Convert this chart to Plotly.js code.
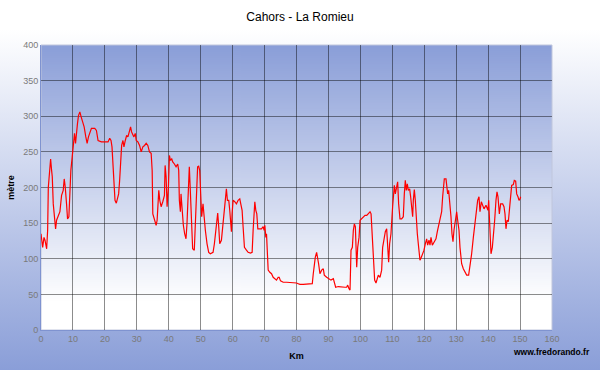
<!DOCTYPE html>
<html>
<head>
<meta charset="utf-8">
<script src="https://cdn.plot.ly/plotly-3.0.1.min.js"></script>
<style>
  html, body { margin: 0; padding: 0; }
  #chart { width: 600px; height: 370px;
    background: linear-gradient(to bottom, #ffffff 0%, #ffffff 8%, #8a9ed8 100%); }
</style>
</head>
<body>
<div id="chart"></div>
<script>
// Distance along the route (km)
const km = [
  0.0, 0.21, 0.52, 0.94, 1.25, 1.77, 2.08, 2.29, 2.6, 2.81, 3.01, 3.32, 3.53, 3.84, 4.16, 4.57, 4.88, 5.4, 5.92, 6.44,
  6.96, 7.27, 7.58, 8.0, 8.31, 8.73, 9.04, 9.35, 9.77, 10.08, 10.49, 10.81, 11.12, 11.43, 11.74, 12.16, 12.57, 12.99, 13.51, 14.03,
  14.44, 14.86, 15.27, 15.79, 16.83, 17.35, 17.87, 18.91, 19.95, 20.99, 21.51, 21.92, 22.23, 22.55, 22.86, 23.17, 23.58, 24.0, 24.31, 24.62,
  24.94, 25.25, 25.66, 25.97, 26.39, 26.81, 27.22, 27.74, 28.05, 28.36, 28.78, 29.09, 29.51, 29.82, 30.34, 30.86, 31.38, 31.9, 32.42, 32.94,
  33.45, 33.97, 34.49, 34.81, 35.01, 35.53, 36.05, 36.36, 36.68, 36.88, 37.19, 37.61, 38.13, 38.65, 38.86, 39.17, 39.48, 39.9, 40.21, 40.52,
  40.94, 41.25, 41.77, 42.29, 42.81, 43.12, 43.32, 43.64, 43.84, 44.16, 44.57, 44.99, 45.4, 45.71, 46.13, 46.44, 46.75, 47.07, 47.48, 48.0,
  48.52, 49.04, 49.37, 49.69, 50.0, 50.31, 50.73, 51.05, 51.46, 51.99, 52.51, 53.03, 53.87, 54.29, 54.92, 55.33, 55.65, 55.96, 56.49, 56.8,
  57.22, 57.74, 58.05, 58.37, 58.79, 59.1, 59.41, 59.62, 59.83, 60.15, 60.67, 61.19, 61.72, 62.24, 62.55, 62.97, 63.28, 63.7, 64.33, 64.85,
  65.59, 66.11, 66.42, 66.63, 66.95, 67.26, 67.57, 67.89, 68.51, 69.04, 69.56, 69.87, 70.08, 70.4, 70.61, 70.92, 71.13, 71.65, 72.18, 72.7,
  73.22, 73.74, 74.27, 74.58, 75.0, 75.84, 76.88, 77.93, 78.97, 80.02, 80.54, 81.07, 82.11, 83.16, 84.21, 84.94, 85.25, 85.56, 85.88, 86.3,
  86.61, 86.92, 87.34, 87.87, 88.39, 88.7, 89.44, 90.17, 90.79, 91.53, 91.84, 92.26, 93.1, 94.14, 95.19, 95.71, 96.03, 96.44, 96.76, 97.07,
  97.49, 97.8, 98.12, 98.43, 98.64, 98.85, 99.16, 99.58, 99.9, 100.4, 100.94, 101.46, 101.99, 102.51, 103.03, 103.35, 103.63, 104.05, 104.47, 104.89,
  105.3, 105.62, 106.14, 106.66, 106.97, 107.39, 107.81, 108.23, 108.54, 108.85, 109.16, 109.58, 110.1, 110.42, 110.63, 110.94, 111.36, 111.67, 111.98, 112.4,
  112.92, 113.44, 113.76, 114.07, 114.38, 114.7, 115.01, 115.43, 115.74, 116.05, 116.37, 116.58, 116.89, 117.2, 117.52, 117.83, 118.25, 118.66, 119.08, 119.5,
  119.92, 120.33, 120.75, 121.06, 121.48, 121.8, 122.11, 122.53, 123.05, 123.67, 124.09, 124.51, 124.93, 125.45, 125.76, 125.97, 126.28, 126.81, 127.12, 127.33,
  127.64, 128.06, 128.37, 128.68, 129.0, 129.31, 129.62, 130.15, 130.46, 130.88, 131.19, 131.71, 132.23, 132.86, 133.28, 133.9, 134.32, 134.84, 135.37, 135.89,
  136.41, 136.72, 137.14, 137.45, 137.87, 138.29, 138.71, 139.33, 139.96, 140.17, 140.58, 140.9, 141.32, 141.63, 142.05, 142.46, 142.78, 143.09, 143.51, 143.92,
  144.55, 144.97, 145.28, 145.59, 145.91, 146.33, 146.64, 147.06, 147.37, 147.89, 148.2, 148.62, 148.94, 149.35, 149.67, 149.98, 150.19
];
// Elevation (m)
const metre = [
  135, 121, 116, 130, 126, 114, 140, 200, 224, 229, 240, 224, 215, 177, 159, 142, 154, 159, 166, 189,
  196, 212, 201, 177, 156, 159, 196, 224, 243, 257, 276, 262, 280, 290, 301, 306, 299, 292, 285, 271,
  262, 271, 278, 283, 283, 280, 266, 264, 264, 264, 269, 266, 257, 224, 201, 182, 178, 184, 191, 210,
  233, 259, 266, 257, 266, 273, 271, 280, 285, 278, 273, 271, 276, 266, 264, 259, 250, 257, 259, 262,
  259, 250, 248, 224, 163, 154, 147, 154, 175, 196, 182, 173, 180, 189, 231, 215, 173, 201, 245, 238,
  240, 236, 233, 229, 233, 224, 182, 166, 191, 163, 147, 135, 128, 149, 187, 229, 196, 145, 114, 112,
  163, 229, 230, 224, 191, 159, 177, 159, 140, 121, 109, 107, 109, 121, 154, 164, 145, 121, 126, 140,
  166, 182, 198, 182, 182, 168, 142, 138, 163, 182, 180, 177, 182, 184, 177, 168, 145, 116, 112, 109,
  108, 109, 140, 163, 180, 168, 163, 142, 142, 142, 145, 140, 147, 130, 135, 93, 84, 81, 79, 74,
  72, 70, 74, 74, 69, 67, 67, 67, 66, 66, 65, 64, 64, 64, 64, 65, 79, 93, 102, 109,
  102, 93, 79, 84, 86, 77, 74, 72, 70, 72, 67, 60, 61, 60, 60, 60, 63, 58, 56, 112,
  116, 140, 149, 145, 98, 88, 116, 130, 154, 156, 159, 161, 161, 164, 166, 163, 140, 98, 70, 66,
  72, 77, 74, 84, 116, 130, 138, 142, 116, 95, 121, 135, 173, 191, 203, 191, 201, 208, 177, 156,
  156, 159, 191, 210, 196, 205, 196, 198, 187, 168, 159, 182, 197, 182, 149, 135, 116, 98, 102, 107,
  112, 121, 128, 119, 126, 119, 130, 119, 124, 128, 138, 147, 159, 166, 187, 201, 212, 212, 201, 191,
  196, 177, 159, 135, 124, 140, 152, 166, 154, 140, 116, 93, 86, 79, 77, 77, 88, 107, 130, 154,
  168, 182, 187, 166, 180, 175, 170, 175, 168, 182, 149, 107, 116, 130, 154, 182, 194, 187, 163, 177,
  177, 173, 163, 142, 154, 152, 168, 191, 203, 204, 210, 209, 191, 187, 182, 184, 187
];
const xTicks = [0, 10, 20, 30, 40, 50, 60, 70, 80, 90, 100, 110, 120, 130, 140, 150, 160];
const yTicks = [0, 50, 100, 150, 200, 250, 300, 350, 400];
const titleText = 'Cahors - La Romieu';
const xTitle = 'Km';
const yTitle = 'mètre';
const credit = 'www.fredorando.fr';

// vertical gradient image for the plot area (blue top -> white bottom)
function gradientImage() {
  const c = document.createElement('canvas');
  c.width = 4; c.height = 300;
  const ctx = c.getContext('2d');
  const g = ctx.createLinearGradient(0, 0, 0, 300);
  g.addColorStop(0, '#8a9ed8');
  g.addColorStop(0.9, '#ffffff');
  g.addColorStop(1, '#ffffff');
  ctx.fillStyle = g;
  ctx.fillRect(0, 0, 4, 300);
  return c.toDataURL('image/png');
}

const tickFont = { family: 'Liberation Sans, Arial, sans-serif', size: 9, color: '#7a7a7a' };
const gridCol = 'rgba(0,0,0,0.45)';

const trace = {
  x: km, y: metre, type: 'scatter', mode: 'lines',
  line: { color: '#ff0000', width: 1.2 },
  hoverinfo: 'skip'
};

const layout = {
  width: 600, height: 370,
  margin: { l: 41, r: 48, t: 45, b: 40 },
  paper_bgcolor: 'rgba(0,0,0,0)',
  plot_bgcolor: 'rgba(0,0,0,0)',
  showlegend: false,
  title: {
    text: titleText,
    font: { family: 'Liberation Sans, Arial, sans-serif', size: 12, color: '#000' },
    xref: 'container', x: 0.5, xanchor: 'center',
    yref: 'container', y: 0.955, yanchor: 'middle'
  },
  xaxis: {
    range: [0, 160], tickvals: xTicks, ticktext: xTicks.map(String),
    showgrid: true, gridcolor: gridCol, gridwidth: 1,
    zeroline: false, showline: true, linecolor: '#7f93d0', linewidth: 1,
    ticks: '', tickfont: tickFont, fixedrange: true,
    title: { text: '<b>' + xTitle + '</b>', font: { family: 'Liberation Sans, Arial, sans-serif', size: 9, color: '#000' }, standoff: 9 }
  },
  yaxis: {
    range: [0, 400], tickvals: yTicks, ticktext: yTicks.map(String),
    showgrid: true, gridcolor: gridCol, gridwidth: 1,
    zeroline: false, showline: true, linecolor: '#7f93d0', linewidth: 1,
    ticks: '', tickfont: tickFont, fixedrange: true,
    title: { text: '<b>' + yTitle + '</b>', font: { family: 'Liberation Sans, Arial, sans-serif', size: 9, color: '#000' }, standoff: 7 }
  },
  images: [{
    source: gradientImage(), xref: 'paper', yref: 'paper',
    x: 0, y: 1, sizex: 1, sizey: 1, sizing: 'stretch', layer: 'below'
  }],
  shapes: [{
    type: 'rect', xref: 'paper', yref: 'paper', x0: 0, x1: 1, y0: 0, y1: 1,
    line: { color: '#c0c6dc', width: 1 }, layer: 'below'
  }],
  annotations: [{
    text: '<b>' + credit + '</b>', showarrow: false,
    xref: 'paper', yref: 'paper', x: 1.078, xanchor: 'right', y: -0.077, yanchor: 'middle',
    font: { family: 'Liberation Sans, Arial, sans-serif', size: 8.5, color: '#000' }
  }]
};

Plotly.newPlot('chart', [trace], layout, { displayModeBar: false, staticPlot: true });
</script>
</body>
</html>
